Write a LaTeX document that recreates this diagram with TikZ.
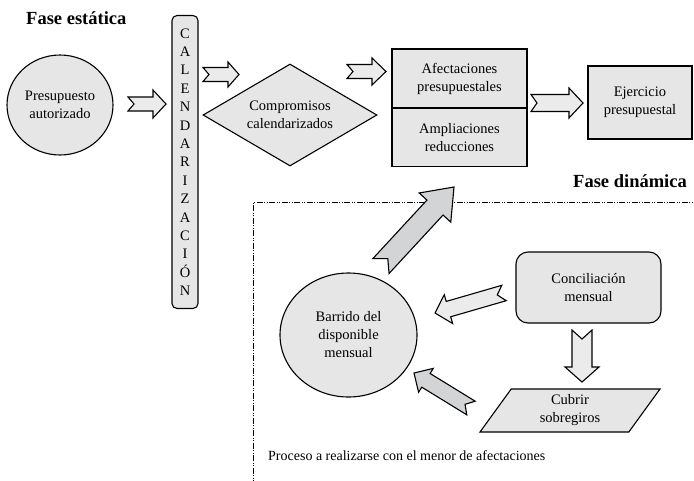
\documentclass[tikz,border=0pt]{standalone}
\usepackage{fontspec}
\setmainfont{Liberation Serif}
\usetikzlibrary{shapes.geometric,calc}
\definecolor{nodefill}{HTML}{E6E6E7}
\definecolor{arrowlight}{HTML}{EBEBEC}
\definecolor{arrowdark}{HTML}{D3D4D5}
% #1 style, #2 tail coordinate, #3 tip coordinate, #4 shaft half width, #5 head half width, #6 head length, #7 notch depth
\newcommand{\blockarrow}[7]{%
  \coordinate (bab) at ($(#3)!#6pt!(#2)$);
  \draw[#1] ($(#2)!#4pt!90:(#3)$) -- ($(bab)!#4pt!-90:(#2)$) -- ($(bab)!#5pt!-90:(#2)$) -- (#3)
    -- ($(bab)!#5pt!90:(#2)$) -- ($(bab)!#4pt!90:(#2)$) -- ($(#2)!#4pt!-90:(#3)$) -- ($(#2)!#7pt!(#3)$) -- cycle;}
\tikzset{
  txt/.style={font=\fontsize{14.5}{18}\selectfont, align=center, inner sep=0pt},
  shapebox/.style={txt, draw, fill=nodefill, line width=1.1pt},
  heading/.style={font=\bfseries\fontsize{18.5}{20}\selectfont, inner sep=0pt},
  barlight/.style={draw, line width=1.1pt, fill=arrowlight, line join=miter},
  bardark/.style={draw, line width=1.1pt, fill=arrowdark, line join=miter},
  frame/.style={line width=1pt, dash pattern=on 6pt off 1.5pt on 1pt off 1.5pt on 1pt off 1.5pt}
}
\begin{document}
\begin{tikzpicture}[x=1pt, y=-1pt]
\useasboundingbox (0,0) rectangle (694,480);
% headings
\node[heading, anchor=base west] (fe) at (26,24) {Fase estática};
\node[heading, anchor=base east] (fd) at (687,187) {Fase dinámica};
% static phase
\node[shapebox, ellipse, minimum width=106pt, minimum height=100pt] (pres) at (60,105) {Presupuesto\\autorizado};
\node[shapebox, rounded corners=5pt, minimum width=26pt, minimum height=293pt, font=\fontsize{14.5}{18.4}\selectfont] (cal) at (185,162)
  {C\\A\\L\\E\\N\\D\\A\\R\\I\\Z\\A\\C\\I\\Ó\\N};
\node[shapebox, diamond, minimum width=174pt, minimum height=102pt, aspect=1.7] (comp) at (290,115) {Compromisos\\calendarizados};
\node[shapebox, minimum width=135pt, minimum height=59pt] (afec) at (459.5,78.5) {Afectaciones\\presupuestales};
\node[shapebox, minimum width=135pt, minimum height=58pt] (amp) at (459.5,137.5) {Ampliaciones\\reducciones};
\node[shapebox, minimum width=104pt, minimum height=73pt] (ejer) at (640,102.5) {Ejercicio\\presupuestal};
% dynamic phase
\node[shapebox, ellipse, minimum width=137pt, minimum height=124pt] (barr) at (348.5,335) {Barrido del\\disponible\\mensual};
\node[shapebox, rounded corners=12pt, minimum width=145pt, minimum height=71pt] (conc) at (588.5,287.5) {Conciliación\\mensual};
\node[shapebox, trapezium, trapezium left angle=45, trapezium right angle=135, trapezium stretches body=true,
  minimum width=180pt, minimum height=43pt] (cubr) at (570,410.5) {Cubrir\\sobregiros};
\node[txt, font=\fontsize{14}{16}\selectfont, anchor=base west] (proc) at (268,460) {Proceso a realizarse con el menor de afectaciones};
% frame
\coordinate (fr1) at (700,202);
\coordinate (fr2) at (253,202);
\coordinate (fr3) at (253,486);
\draw[frame] (fr1) -- (fr2) -- (fr3);
% arrow end points
\coordinate (a1t) at (128,104);   \coordinate (a1h) at (166,104);
\coordinate (a2t) at (203,74.5);  \coordinate (a2h) at (239,74.5);
\coordinate (a3t) at (347,71.5);  \coordinate (a3h) at (386,71.5);
\coordinate (a4t) at (531,103);   \coordinate (a4h) at (583,103);
\coordinate (a5t) at (381,266);   \coordinate (a5h) at (454,187);
\coordinate (a6t) at (504,293);   \coordinate (a6h) at (435,313);
\coordinate (a7t) at (471,408);   \coordinate (a7h) at (414,373);
\coordinate (a8t) at (582,330);   \coordinate (a8h) at (582,382);
% block arrows
\blockarrow{barlight}{a1t}{a1h}{7}{14}{13}{6}
\blockarrow{barlight}{a2t}{a2h}{7}{12.5}{11}{6}
\blockarrow{barlight}{a3t}{a3h}{7}{13.5}{14}{6}
\blockarrow{barlight}{a4t}{a4h}{8.5}{15}{14}{6}
\blockarrow{bardark}{a5t}{a5h}{11}{21.5}{28}{10}
\blockarrow{barlight}{a6t}{a6h}{8}{15}{14}{7}
\blockarrow{bardark}{a7t}{a7h}{8}{14}{14}{7}
\blockarrow{barlight}{a8t}{a8h}{10}{17}{15}{9}
\end{tikzpicture}
\end{document}
